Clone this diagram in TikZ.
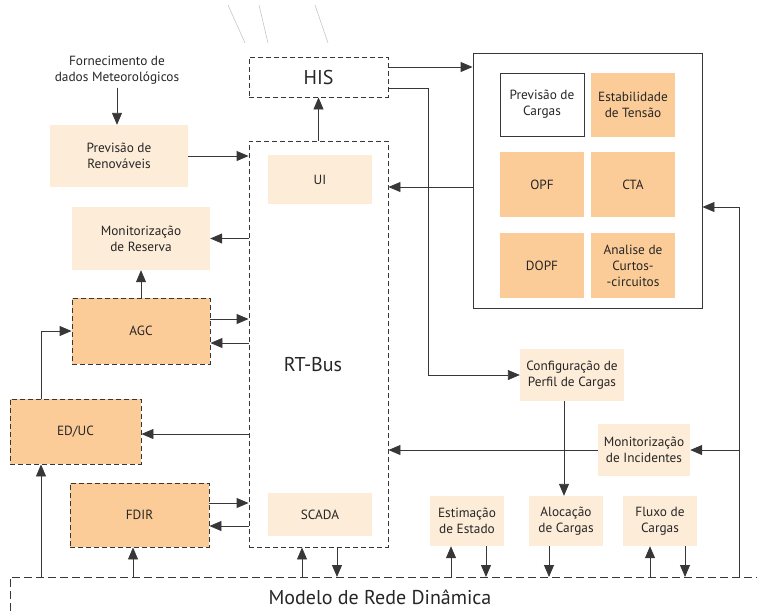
\documentclass[tikz,border=0pt]{standalone}
\usepackage{fontspec}
\setmainfont{PT Sans}
\usetikzlibrary{arrows.meta}
\definecolor{orng}{RGB}{252,204,152}
\definecolor{lite}{RGB}{253,236,216}
\definecolor{ln}{RGB}{55,55,55}
\begin{document}
\begin{tikzpicture}[x=1pt,y=-1pt,
  every node/.style={font=\fontsize{13.3}{16}\selectfont, align=center, text=black!85},
  big/.style={font=\fontsize{20}{22}\selectfont},
  dbox/.style={draw=ln, line width=0.9pt, dash pattern=on 5pt off 3pt, inner sep=0pt},
  obox/.style={dbox, fill=orng},
  lbox/.style={fill=lite, inner sep=0pt},
  fbox/.style={fill=orng, inner sep=0pt},
  arr/.style={draw=ln, line width=0.9pt, -{Triangle[length=12pt,width=10pt]}},
  ln/.style={draw=ln, line width=0.9pt}]
\useasboundingbox (0,0) rectangle (757,611);
% faint top lines
\draw[gray!45, line width=0.6pt] (228,5) -- (245,43);
\draw[gray!45, line width=0.6pt] (259,5) -- (268,43);
\draw[gray!45, line width=0.6pt] (315,5) -- (328,43);
% main boxes
\node[dbox, minimum width=139pt, minimum height=40pt, big] (his) at (318.5,77) {HIS};
\node[dbox, minimum width=139pt, minimum height=406pt] (rt) at (318.5,344) {};
\node[big] (rtl) at (313,365) {RT-Bus};
\node[lbox, minimum width=104pt, minimum height=49pt] (ui) at (320,179.5) {UI};
\node[lbox, minimum width=104pt, minimum height=43pt] (scada) at (320,514.5) {SCADA};
% right box
\node[draw=ln, line width=0.9pt, minimum width=229pt, minimum height=255pt] (rb) at (587.5,180.5) {};
\node[draw=ln, line width=0.9pt, fill=white, minimum width=84pt, minimum height=63pt] (pc) at (542,104.5) {Previsão de\\Cargas};
\node[fbox, minimum width=84pt, minimum height=64pt] (est) at (633,104.5) {Estabilidade\\de Tensão};
\node[fbox, minimum width=84pt, minimum height=65pt] (opf) at (542,184.5) {OPF};
\node[fbox, minimum width=84pt, minimum height=65pt] (cta) at (633,184.5) {CTA};
\node[fbox, minimum width=84pt, minimum height=65pt] (dopf) at (542,265.5) {DOPF};
\node[fbox, minimum width=84pt, minimum height=65pt] (ana) at (633,265.5) {Analise de\\Curtos-\\-circuitos};
% left column
\node (forn) at (117,70) {Fornecimento de\\dados Meteorológicos};
\node[lbox, minimum width=138pt, minimum height=62pt] (prr) at (119,156) {Previsão de\\Renováveis};
\node[lbox, minimum width=138pt, minimum height=63pt] (mr) at (141,238.5) {Monitorização\\de Reserva};
\node[obox, minimum width=138pt, minimum height=66pt] (agc) at (141,331) {AGC};
\node[obox, minimum width=131pt, minimum height=65pt] (educ) at (75.5,431.5) {ED/UC};
\node[obox, minimum width=139pt, minimum height=64pt] (fdir) at (139.5,515) {FDIR};
% right lower
\node[lbox, minimum width=104pt, minimum height=52pt] (cfg) at (572,375) {Configuração de\\Perfil de Cargas};
\node[lbox, minimum width=92pt, minimum height=52pt] (mi) at (644,450) {Monitorização\\de Incidentes};
\node[lbox, minimum width=74pt, minimum height=50pt] (estim) at (467,521) {Estimação\\de Estado};
\node[lbox, minimum width=74pt, minimum height=50pt] (aloc) at (566,521) {Alocação\\de Cargas};
\node[lbox, minimum width=74pt, minimum height=50pt] (fluxo) at (660,521) {Fluxo de\\Cargas};
% modelo
\draw[ln, dash pattern=on 8pt off 4pt] (10,611) -- (10,577) -- (757,577);
\coordinate (modtop) at (0,577);
\coordinate (rvbot) at (739,577);
\node[big] (modelo) at (380,597) {Modelo de Rede Dinâmica};
% connectors
\draw[arr] ([yshift=10pt]his.east) -- ([yshift=10pt]his.east -| rb.west);
\draw[arr] ([yshift=-11pt]his.east) -- ++(40,0) |- (cfg.west);
\draw[arr] (rt.north) -- (his.south);
\draw[arr] ([yshift=-6.5pt]rb.west) -- ([yshift=-6.5pt]rb.west -| rt.east);
\draw[arr] (rvbot) |- ([yshift=-26.5pt]rb.east);
\draw[arr] (mi.east -| rvbot) -- (mi.east);
\draw[arr] (mi.west) -- (mi.west -| rt.east);
\draw[arr] ([xshift=-8pt]cfg.south) -- ([xshift=-8pt]cfg.south |- aloc.north);
\draw[arr] (forn.south) -- (forn.south |- prr.north);
\draw[arr] (prr.east) -- (prr.east -| rt.west);
\draw[arr] (mr.east -| rt.west) -- (mr.east);
\draw[arr] (agc.north) -- (mr.south);
\draw[arr] ([yshift=12pt]agc.east) -- ([yshift=12pt]agc.east -| rt.west);
\draw[arr] ([yshift=-12pt]agc.east -| rt.west) -- ([yshift=-12pt]agc.east);
\draw[arr] ([yshift=-2.5pt]educ.east -| rt.west) -- ([yshift=-2.5pt]educ.east);
\draw[arr] ([xshift=-34.5pt]educ.north) |- (agc.west);
\draw[arr] ([xshift=-34.5pt]educ.south |- modtop) -- ([xshift=-34.5pt]educ.south);
\draw[arr] ([xshift=-6.5pt]fdir.south |- modtop) -- ([xshift=-6.5pt]fdir.south);
\draw[arr] ([yshift=12pt]fdir.east) -- ([yshift=12pt]fdir.east -| rt.west);
\draw[arr] ([yshift=-11pt]fdir.east -| rt.west) -- ([yshift=-11pt]fdir.east);
\draw[arr] ([xshift=-16.5pt]rt.south |- modtop) -- ([xshift=-16.5pt]rt.south);
\draw[arr] ([xshift=18.5pt]rt.south) -- ([xshift=18.5pt]rt.south |- modtop);
\draw[arr] ([xshift=-16pt]estim.south |- modtop) -- ([xshift=-16pt]estim.south);
\draw[arr] ([xshift=19pt]estim.south) -- ([xshift=19pt]estim.south |- modtop);
\draw[arr] ([xshift=-17pt]aloc.south) -- ([xshift=-17pt]aloc.south |- modtop);
\draw[arr] ([xshift=-10pt]fluxo.south |- modtop) -- ([xshift=-10pt]fluxo.south);
\draw[arr] ([xshift=25pt]fluxo.south) -- ([xshift=25pt]fluxo.south |- modtop);
\end{tikzpicture}
\end{document}
